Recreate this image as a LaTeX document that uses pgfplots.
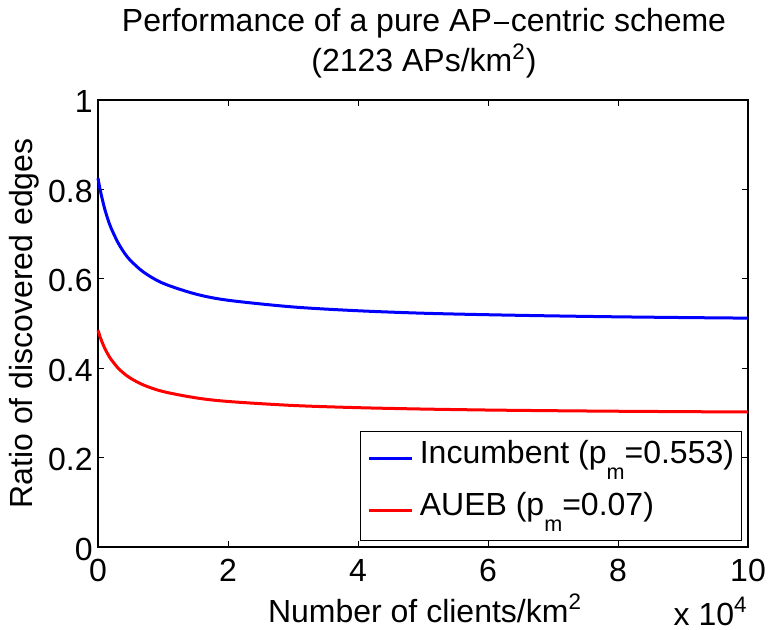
\documentclass[border=0pt]{standalone}
\usepackage{pgfplots}
\pgfplotsset{compat=1.18}
\usepackage{fontspec}
\setmainfont{Liberation Sans}
\newcommand{\pmsub}{p\raisebox{-7.8pt}{\fontsize{10.8}{10.8}\selectfont m}}
\newcommand{\fs}{\fontsize{16}{19}\selectfont}
\begin{document}
\fs
\begin{tikzpicture}
\begin{axis}[
  scale only axis,
  clip=false,
  width=325pt, height=223.5pt,
  xmin=0, xmax=10, ymin=0, ymax=1,
  xtick={0,2,4,6,8,10},
  ytick={0,0.2,0.4,0.6,0.8,1},
  yticklabels={0,0.2,0.4,0.6,0.8,1},
  tick align=inside,
  major tick length=3.2pt,
  tick style={black, line width=0.5pt},
  axis line style={line width=0.7pt},
  /pgf/number format/assume math mode=true,
  tick label style={font=\fs},
  xticklabel style={anchor=base, yshift=-17.3pt},
  yticklabel style={anchor=east, inner xsep=0pt, xshift=-2.5pt, yshift=-1pt},
  label style={font=\fs},
  xlabel={Number of clients/km\textsuperscript{2}},
  ylabel={Ratio of discovered edges},
  xlabel style={at={([yshift=-37.5pt,xshift=1pt]rel axis cs:0.5,0)}, anchor=base},
  ylabel style={at={([xshift=-32.5pt]rel axis cs:0,0.5)}, anchor=base},
  legend style={at={([xshift=-3.3pt,yshift=3pt]rel axis cs:1,0)}, anchor=south east,
    draw=black, font=\fs,
    inner xsep=3.5pt, inner ysep=1.25pt, column sep=0pt, row sep=0pt,
    nodes={inner xsep=0pt, inner ysep=3.45pt, text height=11.3pt, text depth=7.8pt}},
  legend cell align=left,
  legend image post style={line width=1.5pt},
  legend image code/.code={\draw[#1, line width=1.5pt] (1pt,1pt) -- (22.5pt,1pt);},
]
\coordinate (bl) at (rel axis cs:0,0);
\coordinate (tr) at (rel axis cs:1,1);
\addplot[blue, line width=1.5pt, smooth, tension=0.5] coordinates {
(0,0.825) (0.025,0.805) (0.05,0.788) (0.1,0.758) (0.15,0.734) (0.2,0.714)
(0.3,0.683) (0.4,0.659) (0.5,0.641) (0.7,0.615) (1,0.590) (1.5,0.566)
(2,0.552) (3,0.537) (4,0.5285) (5,0.523) (6,0.5196) (7,0.517) (8,0.5149) (9,0.5133) (10,0.512)
};
\addlegendentry{\kern3pt Incumbent (\pmsub=0.553)}
\addplot[red, line width=1.5pt, smooth, tension=0.5] coordinates {
(0,0.485) (0.025,0.4734) (0.05,0.4631) (0.1,0.4458) (0.15,0.4317) (0.2,0.420)
(0.3,0.4017) (0.4,0.3881) (0.5,0.3776) (0.7,0.3624) (1,0.3478) (1.5,0.3338)
(2,0.3256) (3,0.3166) (4,0.3117) (5,0.3086) (6,0.3064) (7,0.3049) (8,0.3037) (9,0.3028) (10,0.3020)
};
\addlegendentry{\kern3pt AUEB (\pmsub=0.07)}
\node[anchor=base east, font=\fs, inner sep=0pt] at ([yshift=-39pt]rel axis cs:1.0,0) {x 10\textsuperscript{4}};
\node[anchor=base, font=\fs, inner sep=0pt] at ([yshift=34pt,xshift=0.5pt]rel axis cs:0.5,1) {Performance of a pure AP\kern1pt\rule[4pt]{7.5pt}{0.9pt}\kern1ptcentric scheme};
\node[anchor=base, font=\fs, inner sep=0pt] at ([yshift=14pt,xshift=0.5pt]rel axis cs:0.5,1) {(2123 APs/km\textsuperscript{2})};
\end{axis}
\pgfresetboundingbox
\path[use as bounding box] ([xshift=-49pt,yshift=-41.5pt]bl) rectangle ([xshift=10.5pt,yshift=50pt]tr);
\end{tikzpicture}
\end{document}
